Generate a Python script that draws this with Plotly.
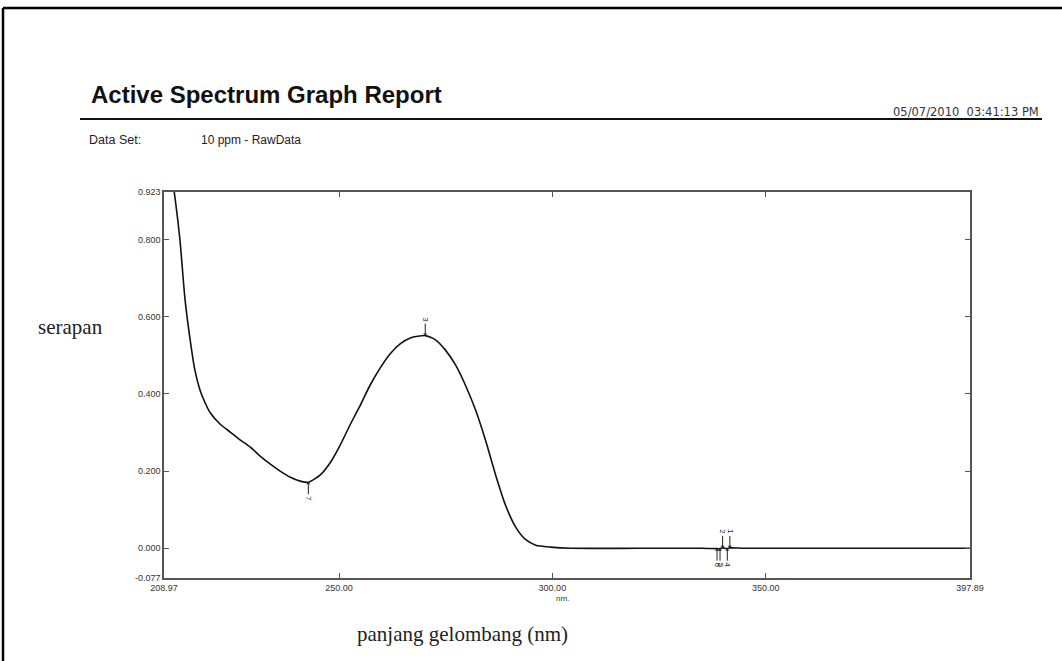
import plotly.graph_objects as go

# Absorbance spectrum (wavelength in nm, absorbance)
wavelength = [208.97, 210.0, 211.0, 211.6, 212.7, 213.9, 215.1, 216.2, 217.4, 218.6,
              219.8, 222.1, 224.5, 226.8, 229.2, 231.5, 233.9, 236.2, 238.6, 240.9,
              242.8, 245.6, 248.0, 250.3, 252.6, 255.0, 257.3, 259.7, 262.0, 264.4,
              266.7, 270.2, 272.6, 274.9, 277.3, 279.6, 282.0, 284.3, 286.7, 289.0,
              291.4, 293.7, 296.1, 299.6, 304.3, 320.0, 335.0, 338.6, 339.3, 339.9,
              341.0, 341.6, 345.0, 360.0, 380.0, 397.89]
absorbance = [1.080, 1.000, 0.950, 0.904, 0.800, 0.644, 0.540, 0.462, 0.410, 0.377,
              0.351, 0.322, 0.301, 0.281, 0.262, 0.239, 0.218, 0.200, 0.184, 0.174,
              0.171, 0.190, 0.223, 0.268, 0.320, 0.371, 0.423, 0.468, 0.504, 0.530,
              0.545, 0.551, 0.540, 0.514, 0.475, 0.423, 0.358, 0.281, 0.190, 0.112,
              0.055, 0.023, 0.008, 0.003, 0.000, 0.000, 0.000, -0.001, -0.001, 0.001,
              -0.001, 0.001, 0.000, 0.000, 0.000, 0.000]

# Picked peaks and valleys
peak_labels = ["1", "2", "3"]
peak_wl = [341.6, 339.9, 270.2]
peak_abs = [0.001, 0.001, 0.551]
valley_labels = ["4", "5", "6", "7"]
valley_wl = [341.0, 339.3, 338.6, 242.8]
valley_abs = [-0.001, -0.001, -0.001, 0.171]

x_ticks = [208.97, 250.00, 300.00, 350.00, 397.89]
x_ticktext = ["208.97", "250.00", "300.00", "350.00", "397.89"]
y_ticks = [-0.077, 0.000, 0.200, 0.400, 0.600, 0.800, 0.923]
y_ticktext = ["-0.077", "0.000", "0.200", "0.400", "0.600", "0.800", "0.923"]

W, H = 1062, 661
L, R, T, B = 164, 970, 192, 578


def px(x):
    return (x - L) / (R - L)


def py(y):
    return (B - y) / (B - T)


fig = go.Figure()
fig.add_trace(go.Scatter(x=wavelength, y=absorbance, mode="lines",
                         line=dict(color="#111111", width=1.6, shape="spline", smoothing=0.6),
                         hoverinfo="skip", showlegend=False))

annotations = []
for lab, xv, yv in zip(peak_labels, peak_wl, peak_abs):
    annotations.append(dict(x=xv, y=yv, xref="x", yref="y", text=lab, textangle=90,
                            showarrow=True, arrowhead=1, arrowsize=0.7, arrowwidth=1,
                            arrowcolor="#222", ax=0, ay=-16,
                            font=dict(family="Liberation Sans", size=8, color="#222")))
for lab, xv, yv in zip(valley_labels, valley_wl, valley_abs):
    annotations.append(dict(x=xv, y=yv, xref="x", yref="y", text=lab, textangle=90,
                            showarrow=True, arrowhead=1, arrowsize=0.7, arrowwidth=1,
                            arrowcolor="#222", ax=0, ay=16,
                            font=dict(family="Liberation Sans", size=8, color="#222")))

# Report header and free-standing labels
annotations += [
    dict(x=px(89), y=py(94), xref="paper", yref="paper", text="<b>Active Spectrum Graph Report</b>",
         showarrow=False, xanchor="left", yanchor="middle",
         font=dict(family="Liberation Sans", size=24, color="#111")),
    dict(x=px(1041), y=py(112), xref="paper", yref="paper", text="05/07/2010&nbsp;&nbsp;03:41:13 PM",
         showarrow=False, xanchor="right", yanchor="middle",
         font=dict(family="DejaVu Sans", size=11.5, color="#333")),
    dict(x=px(87), y=py(140), xref="paper", yref="paper", text="Data Set:",
         showarrow=False, xanchor="left", yanchor="middle",
         font=dict(family="Liberation Sans", size=12.5, color="#222")),
    dict(x=px(199), y=py(140), xref="paper", yref="paper", text="10 ppm - RawData",
         showarrow=False, xanchor="left", yanchor="middle",
         font=dict(family="Liberation Sans", size=12, color="#222")),
    dict(x=px(36), y=py(327), xref="paper", yref="paper", text="serapan",
         showarrow=False, xanchor="left", yanchor="middle",
         font=dict(family="Liberation Serif", size=21, color="#222")),
    dict(x=px(462), y=py(634), xref="paper", yref="paper", text="panjang gelombang (nm)",
         showarrow=False, xanchor="center", yanchor="middle",
         font=dict(family="Liberation Serif", size=21, color="#222")),
    dict(x=px(562), y=py(598), xref="paper", yref="paper", text="nm.",
         showarrow=False, xanchor="center", yanchor="middle",
         font=dict(family="Liberation Sans", size=8, color="#333")),
]

shapes = [
    # page frame (top and left edges)
    dict(type="line", xref="paper", yref="paper", x0=px(3), y0=py(8), x1=px(1062), y1=py(8),
         line=dict(color="#000", width=2.5)),
    dict(type="line", xref="paper", yref="paper", x0=px(3), y0=py(8), x1=px(3), y1=py(661),
         line=dict(color="#000", width=2.5)),
    # rule under the title
    dict(type="line", xref="paper", yref="paper", x0=px(80), y0=py(119), x1=px(1042), y1=py(119),
         line=dict(color="#111", width=2)),
]

fig.update_layout(
    width=W, height=H,
    margin=dict(l=L, r=W - R, t=T, b=H - B, pad=0),
    paper_bgcolor="white", plot_bgcolor="white",
    showlegend=False,
    annotations=annotations,
    shapes=shapes,
    xaxis=dict(range=[208.97, 397.89], tickvals=x_ticks, ticktext=x_ticktext,
               showgrid=False, zeroline=False, showline=True, mirror="ticks",
               linecolor="#555", linewidth=1.5, ticks="inside", ticklen=5,
               tickcolor="#555", tickwidth=1.2,
               tickfont=dict(family="Liberation Sans", size=9, color="#333")),
    yaxis=dict(range=[-0.077, 0.923], tickvals=y_ticks, ticktext=y_ticktext,
               showgrid=False, zeroline=False, showline=True, mirror="ticks",
               linecolor="#555", linewidth=1.5, ticks="inside", ticklen=5,
               tickcolor="#555", tickwidth=1.2,
               tickfont=dict(family="Liberation Sans", size=9, color="#333")),
)

fig.write_html("out.html")
